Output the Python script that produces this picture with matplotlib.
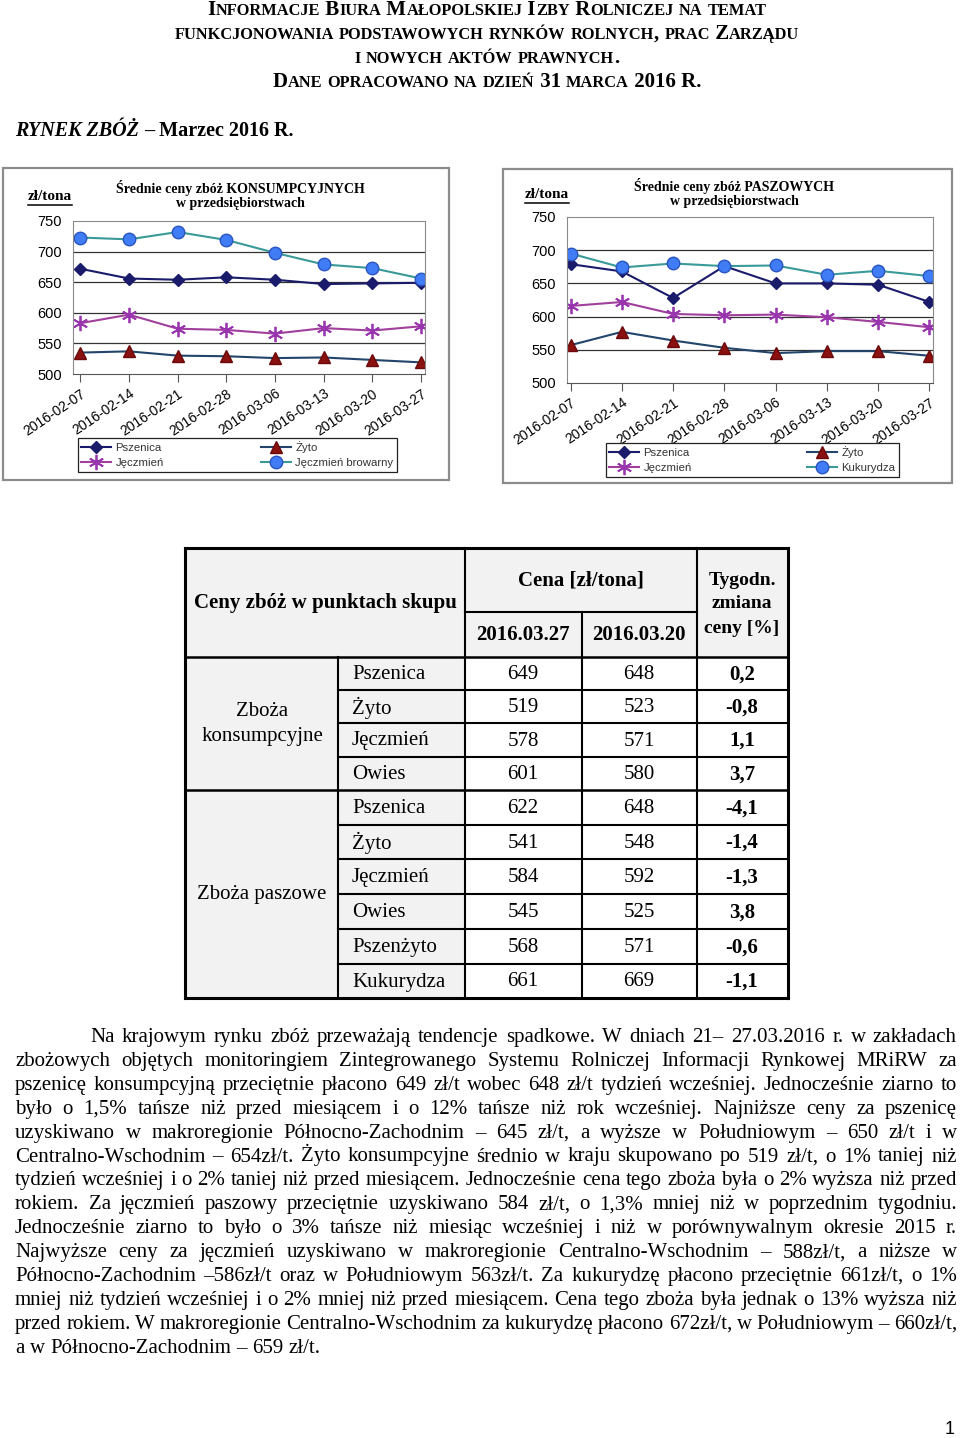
import matplotlib
matplotlib.use("Agg")
from matplotlib import pyplot as plt
from matplotlib.lines import Line2D
from matplotlib.patches import Rectangle
import numpy as np

W, H = 960, 1438

dates = ["2016-02-07", "2016-02-14", "2016-02-21", "2016-02-28",
         "2016-03-06", "2016-03-13", "2016-03-20", "2016-03-27"]

# srednie ceny zboz konsumpcyjnych [zl/t]
kons_pszenica = [672, 656, 654, 658, 654, 647, 648, 649]
kons_zyto = [535, 537, 530, 529, 526, 527, 523, 519]
kons_jeczmien = [583, 597, 574, 572, 566, 575, 571, 578]
kons_browarny = [723, 720, 732, 719, 698, 679, 673, 656]

# srednie ceny zboz paszowych [zl/t]
pasz_pszenica = [679, 668, 628, 676, 650, 650, 648, 622]
pasz_zyto = [557, 577, 564, 553, 545, 548, 548, 541]
pasz_jeczmien = [616, 622, 604, 602, 603, 599, 592, 584]
pasz_kukurydza = [695, 674, 680, 676, 677, 663, 669, 661]

# tabela
tab_groups = [["Zboża", "konsumpcyjne"], ["Zboża paszowe"]]
tab_names = ["Pszenica", "Żyto", "Jęczmień", "Owies", "Pszenica", "Żyto",
             "Jęczmień", "Owies", "Pszenżyto", "Kukurydza"]
tab_now = [649, 519, 578, 601, 622, 541, 584, 545, 568, 661]
tab_prev = [648, 523, 571, 580, 648, 548, 592, 525, 571, 669]
tab_change = ["0,2", "-0,8", "1,1", "3,7", "-4,1", "-1,4", "-1,3", "3,8", "-0,6", "-1,1"]

header_lines = ["Informacje Biura Małopolskiej Izby Rolniczej na temat",
                "funkcjonowania podstawowych rynków rolnych, prac Zarządu",
                "i nowych aktów prawnych.",
                "Dane opracowano na dzień 31 marca 2016 R."]

para = [
    "Na krajowym rynku zbóż przeważają tendencje spadkowe. W dniach 21– 27.03.2016 r. w zakładach",
    "zbożowych objętych monitoringiem Zintegrowanego Systemu Rolniczej Informacji Rynkowej MRiRW za",
    "pszenicę konsumpcyjną przeciętnie płacono 649 zł/t wobec 648 zł/t tydzień wcześniej. Jednocześnie ziarno to",
    "było o 1,5% tańsze niż przed miesiącem i o 12% tańsze niż rok wcześniej. Najniższe ceny za pszenicę",
    "uzyskiwano w makroregionie Północno-Zachodnim – 645 zł/t, a wyższe w Południowym – 650 zł/t i w",
    "Centralno-Wschodnim – 654zł/t. Żyto konsumpcyjne średnio w kraju skupowano po 519 zł/t, o 1% taniej niż",
    "tydzień wcześniej i o 2% taniej niż przed miesiącem. Jednocześnie cena tego zboża była o 2% wyższa niż przed",
    "rokiem. Za jęczmień paszowy przeciętnie uzyskiwano 584 zł/t, o 1,3% mniej niż w poprzednim tygodniu.",
    "Jednocześnie ziarno to było o 3% tańsze niż miesiąc wcześniej i niż w porównywalnym okresie 2015 r.",
    "Najwyższe ceny za jęczmień uzyskiwano w makroregionie Centralno-Wschodnim – 588zł/t, a niższe w",
    "Północno-Zachodnim –586zł/t oraz w Południowym 563zł/t. Za kukurydzę płacono przeciętnie 661zł/t, o 1%",
    "mniej niż tydzień wcześniej i o 2% mniej niż przed miesiącem. Cena tego zboża była jednak o 13% wyższa niż",
    "przed rokiem. W makroregionie Centralno-Wschodnim za kukurydzę płacono 672zł/t, w Południowym – 660zł/t,",
    "a w Północno-Zachodnim – 659 zł/t.",
]

SERIF = "Liberation Serif"
SANS = "Liberation Sans"

fig = plt.figure(figsize=(9.6, 14.38), dpi=100)
renderer = fig.canvas.get_renderer()


def fx(x):
    return x / W


def fy(y):
    return 1 - y / H


def tw(s, **kw):
    t = fig.text(0, 0, s, **kw)
    w = t.get_window_extent(renderer=renderer).width
    t.remove()
    return w


def adv(s, **kw):
    # szerokosc z odstepem (advance), mierzona z pomocnicza kreska
    return tw(s + "|", **kw) - tw("|", **kw)


def txt(x, y, s, **kw):
    return fig.text(fx(x), fy(y), s, **kw)


def hline(x0, x1, y, lw=1.5, c="black"):
    fig.add_artist(Line2D([fx(x0), fx(x1)], [fy(y), fy(y)], transform=fig.transFigure, color=c, lw=lw))


def vline(x, y0, y1, lw=1.5, c="black"):
    fig.add_artist(Line2D([fx(x), fx(x)], [fy(y0), fy(y1)], transform=fig.transFigure, color=c, lw=lw))


# ---- naglowek (kapitaliki)
def smallcaps(text, xc, yb, big, small):
    segs = []
    for ch in text:
        size = small if ch.islower() else big
        if segs and segs[-1][1] == size:
            segs[-1] = (segs[-1][0] + ch.upper(), size)
        else:
            segs.append((ch.upper(), size))
    widths = [adv(s, fontsize=size, family=SERIF, weight="bold") for s, size in segs]
    x = xc - sum(widths) / 2
    for (s, size), w in zip(segs, widths):
        txt(x, yb, s, fontsize=size, family=SERIF, weight="bold", va="baseline")
        x += w


for i, line in enumerate(header_lines):
    smallcaps(line, 487, 15 + 24 * i, 15, 11.8)

x0 = 15
t1 = "RYNEK ZBÓŻ "
txt(x0, 136, t1, fontsize=14.5, family=SERIF, weight="bold", style="italic", va="baseline")
w1 = adv(t1, fontsize=14.5, family=SERIF, weight="bold", style="italic")
txt(x0 + w1, 136, "– Marzec 2016 R.", fontsize=14.5, family=SERIF, weight="bold", va="baseline")


# ---- wykresy
def chart(plot_px, box_px, series, labels, title, unit_xy, title_xy, leg_px, xlim):
    bx0, by0, bx1, by1 = box_px
    fig.add_artist(Rectangle((fx(bx0), fy(by1)), (bx1 - bx0) / W, (by1 - by0) / H,
                             transform=fig.transFigure, fill=False, ec="#8c8c8c", lw=1.6))
    px0, py0, px1, py1 = plot_px
    ax = fig.add_axes([fx(px0), fy(py1), (px1 - px0) / W, (py1 - py0) / H])
    x = np.arange(len(dates))
    handles = []
    for vals, st, lab in zip(series, styles, labels):
        h, = ax.plot(x, vals, label=lab, **st)
        handles.append(h)
    ax.set_ylim(500, 750)
    ax.set_yticks(range(500, 751, 50))
    ax.set_xlim(*xlim)
    ax.set_xticks(x)
    ax.set_xticklabels(dates, rotation=34, ha="right", rotation_mode="anchor",
                       fontsize=10, family=SANS)
    for lab in ax.get_yticklabels():
        lab.set_family(SANS)
        lab.set_fontsize(10.5)
    ax.tick_params(axis="y", length=0, pad=8)
    ax.tick_params(axis="x", length=6, direction="out", color="#555555", pad=3)
    for yv in (550, 600, 650, 700):
        ax.axhline(yv, color="#333333", lw=0.9, zorder=0)
    for sp in ("top", "right", "left"):
        ax.spines[sp].set_color("#8a8a8a")
    ax.spines["bottom"].set_color("#555555")
    txt(title_xy[0], title_xy[1], title, fontsize=10, family=SERIF, weight="bold",
        ha="center", va="center", linespacing=1.2)
    ux, uy = unit_xy
    txt(ux, uy, "zł/tona", fontsize=11, family=SERIF, weight="bold", va="center")
    uw = tw("zł/tona", fontsize=11, family=SERIF, weight="bold")
    hline(ux, ux + uw, uy + 8, lw=1.1)
    lx0, ly0, lx1, ly1 = leg_px
    order = [0, 2, 1, 3]
    leg = ax.legend([handles[i] for i in order], [labels[i] for i in order], ncol=2,
                    loc="upper left", mode="expand",
                    bbox_to_anchor=(fx(lx0), fy(ly1), (lx1 - lx0) / W, (ly1 - ly0) / H),
                    bbox_transform=fig.transFigure, fancybox=False, framealpha=1,
                    edgecolor="#222222", handlelength=2.6,
                    borderpad=0.3, labelspacing=0.45, handletextpad=0.4,
                    prop={"family": SANS, "size": 8.2}, borderaxespad=0)
    leg.get_frame().set_linewidth(0.9)
    for t in leg.get_texts():
        t.set_color("#333333")
    return ax


styles = [
    dict(color="#1b1b6b", lw=1.5, marker="D", ms=6, mfc="#1b1b6b", mec="#1b1b6b"),
    dict(color="#23456b", lw=1.5, marker="^", ms=8, mfc="#8b1010", mec="#6b0a0a"),
    dict(color="#a0409c", lw=1.5, marker=(6, 2, 0), ms=11, mec="#9a35b0", mew=1.3),
    dict(color="#3a9999", lw=1.5, marker="o", ms=9, mfc="#3f7cf5", mec="#2a55c0", mew=1),
]

chart((73, 221, 425, 374), (3, 168, 449, 480),
      [kons_pszenica, kons_zyto, kons_jeczmien, kons_browarny],
      ["Pszenica", "Żyto", "Jęczmień", "Jęczmień browarny"],
      "Średnie ceny zbóż KONSUMPCYJNYCH\nw przedsiębiorstwach",
      (28, 197), (240, 195), (78, 438, 397, 474), (-0.15, 7.08))

chart((567, 217, 933, 383), (503, 169, 952, 483),
      [pasz_pszenica, pasz_zyto, pasz_jeczmien, pasz_kukurydza],
      ["Pszenica", "Żyto", "Jęczmień", "Kukurydza"],
      "Średnie ceny zbóż PASZOWYCH\nw przedsiębiorstwach",
      (525, 195), (734, 193), (606, 443, 899, 479), (-0.07, 7.07))

# ---- tabela
cols = [185, 338, 465, 582, 697, 788]
top, sub, hb = 548, 612, 657
rows = [657, 690, 723, 757, 790, 825, 859, 894, 929, 964, 998]
grey = "#f2f2f2"
fig.add_artist(Rectangle((fx(cols[0]), fy(hb)), (cols[5] - cols[0]) / W, (hb - top) / H,
                         transform=fig.transFigure, color=grey, lw=0))
fig.add_artist(Rectangle((fx(cols[0]), fy(rows[-1])), (cols[2] - cols[0]) / W, (rows[-1] - hb) / H,
                         transform=fig.transFigure, color=grey, lw=0))

hline(cols[0], cols[5], top, lw=2.2)
hline(cols[0], cols[5], rows[-1], lw=2.2)
vline(cols[0], top, rows[-1], lw=2.2)
vline(cols[5], top, rows[-1], lw=2.2)
hline(cols[2], cols[4], sub)
hline(cols[0], cols[5], hb, lw=1.8)
hline(cols[0], cols[5], rows[4], lw=1.8)
for r in rows[1:-1]:
    if r != rows[4]:
        hline(cols[1], cols[5], r)
vline(cols[1], hb, rows[-1])
vline(cols[2], top, rows[-1])
vline(cols[3], sub, rows[-1])
vline(cols[4], top, rows[-1])

FS = 15
txt(325, 603, "Ceny zbóż w punktach skupu", fontsize=FS, family=SERIF, weight="bold", ha="center", va="center")
txt(581, 581, "Cena [zł/tona]", fontsize=FS, family=SERIF, weight="bold", ha="center", va="center")
txt(523, 635, "2016.03.27", fontsize=FS, family=SERIF, weight="bold", ha="center", va="center")
txt(639, 635, "2016.03.20", fontsize=FS, family=SERIF, weight="bold", ha="center", va="center")
for s, yc in zip(["Tygodn.", "zmiana", "ceny [%]"], [581, 604, 628]):
    txt(742, yc, s, fontsize=14, family=SERIF, weight="bold", ha="center", va="center")
for s, yc in zip(tab_groups[0], [712, 736]):
    txt(262, yc, s, fontsize=FS, family=SERIF, ha="center", va="center")
txt(262, 894, tab_groups[1][0], fontsize=FS, family=SERIF, ha="center", va="center")
for i, name in enumerate(tab_names):
    yc = (rows[i] + rows[i + 1]) / 2 + 1
    txt(352, yc, name, fontsize=FS, family=SERIF, va="center")
    txt(523, yc, str(tab_now[i]), fontsize=FS, family=SERIF, ha="center", va="center")
    txt(639, yc, str(tab_prev[i]), fontsize=FS, family=SERIF, ha="center", va="center")
    txt(742, yc, tab_change[i], fontsize=FS, family=SERIF, weight="bold", ha="center", va="center")

# ---- tekst (wyjustowany)
PF = 15
space = adv(" ", fontsize=PF, family=SERIF)
for i, line in enumerate(para):
    yb = 1042 + 23.9 * i
    left = 90 if i == 0 else 15
    right = 957
    words = line.split(" ")
    ws = [tw(w, fontsize=PF, family=SERIF) for w in words]
    if i < len(para) - 1:
        gap = (right - left - sum(ws)) / (len(words) - 1)
    else:
        gap = space
    x = left
    for w, wd in zip(words, ws):
        txt(x, yb, w, fontsize=PF, family=SERIF, va="baseline")
        x += wd + gap

txt(950, 1430, "1", fontsize=13, family=SANS, ha="center", va="center")

fig.savefig("out.png", dpi=100)
